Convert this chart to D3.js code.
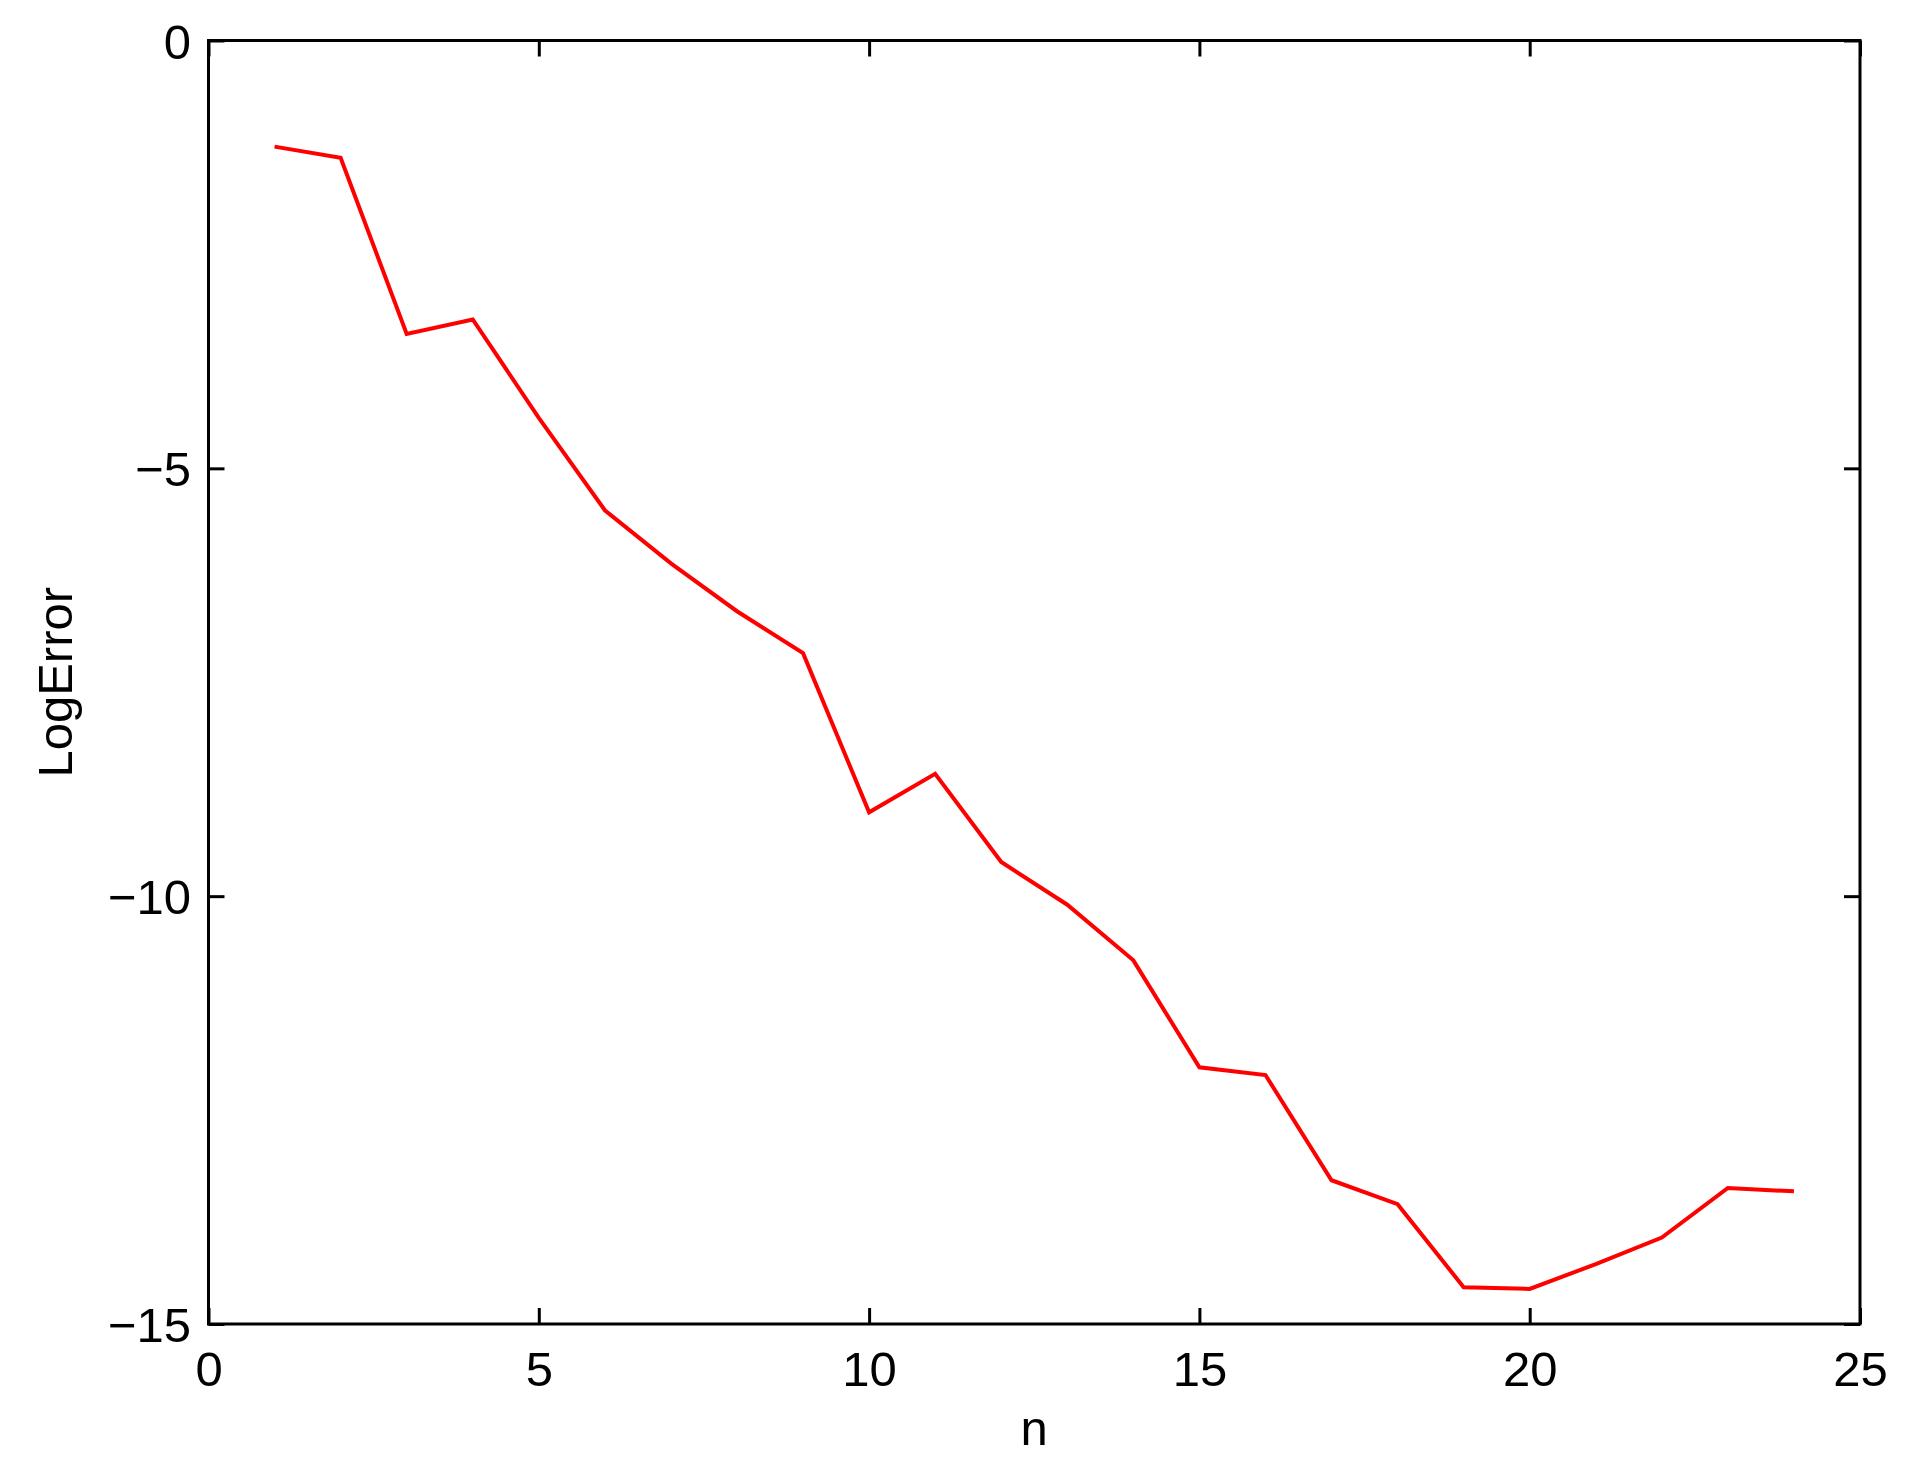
<!DOCTYPE html>
<html>
<head>
<meta charset="utf-8">
<script src="https://cdn.jsdelivr.net/npm/d3@7"></script>
<style>
  body { margin: 0; background: #fff; }
  text { font-family: "Liberation Sans", Arial, Helvetica, sans-serif; fill: #000; }
</style>
</head>
<body>
<div id="chart"></div>
<script>
// data
const nValues = [1, 2, 3, 4, 5, 6, 7, 8, 9, 10, 11, 12, 13, 14, 15, 16, 17, 18, 19, 20, 21, 22, 23, 24];
const logError = [-1.24, -1.37, -3.43, -3.26, -4.41, -5.49, -6.11, -6.67, -7.16, -9.02, -8.57, -9.60,
                  -10.10, -10.75, -12.00, -12.09, -13.32, -13.60, -14.57, -14.59, -14.30, -13.99, -13.41, -13.45];
const xTicks = [0, 5, 10, 15, 20, 25];
const yTicks = [0, -5, -10, -15];

const width = 1925, height = 1469;
const margin = {left: 208.5, right: 1925 - 1860, top: 40.5, bottom: 1469 - 1324};
const fontSize = 49;
const tickLen = 16;

const svg = d3.select("#chart").append("svg")
    .attr("width", width)
    .attr("height", height);

const x = d3.scaleLinear().domain([0, 25]).range([margin.left, width - margin.right]);
const y = d3.scaleLinear().domain([-15, 0]).range([height - margin.bottom, margin.top]);

const fmt = d => d < 0 ? "\u2212" + Math.abs(d) : String(d);

// bottom axis with labels
svg.append("g")
    .attr("transform", `translate(0,${y(-15)})`)
    .call(d3.axisBottom(x).tickValues(xTicks).tickSize(-tickLen).tickPadding(27).tickFormat(fmt))
    .call(g => g.select(".domain").remove());

// top axis, ticks only
svg.append("g")
    .attr("transform", `translate(0,${y(0)})`)
    .call(d3.axisTop(x).tickValues(xTicks).tickSize(-tickLen).tickFormat(""))
    .call(g => g.select(".domain").remove());

// left axis with labels
svg.append("g")
    .attr("transform", `translate(${x(0)},0)`)
    .call(d3.axisLeft(y).tickValues(yTicks).tickSize(-tickLen).tickPadding(17.5).tickFormat(fmt))
    .call(g => g.select(".domain").remove())
    .call(g => g.selectAll("text").attr("dy", "0.36em"));

// right axis, ticks only
svg.append("g")
    .attr("transform", `translate(${x(25)},0)`)
    .call(d3.axisRight(y).tickValues(yTicks).tickSize(-tickLen).tickFormat(""))
    .call(g => g.select(".domain").remove());

svg.selectAll(".tick line").attr("stroke", "#000").attr("stroke-width", 3);
svg.selectAll(".tick text").attr("font-size", fontSize).attr("font-family", null);

// box
svg.append("rect")
    .attr("x", x(0))
    .attr("y", y(0))
    .attr("width", x(25) - x(0))
    .attr("height", y(-15) - y(0))
    .attr("fill", "none")
    .attr("stroke", "#000")
    .attr("stroke-width", 3);

// the line
const line = d3.line()
    .x((d, i) => x(nValues[i]))
    .y(d => y(d));

svg.append("path")
    .datum(logError)
    .attr("d", line)
    .attr("fill", "none")
    .attr("stroke", "#ff0000")
    .attr("stroke-width", 4)
    .attr("stroke-linejoin", "miter");

// axis labels
svg.append("text")
    .attr("x", (x(0) + x(25)) / 2)
    .attr("y", 1445)
    .attr("text-anchor", "middle")
    .attr("font-size", fontSize)
    .text("n");

svg.append("text")
    .attr("transform", `translate(72,${(y(0) + y(-15)) / 2}) rotate(-90)`)
    .attr("text-anchor", "middle")
    .attr("font-size", fontSize)
    .text("LogError");
</script>
</body>
</html>
